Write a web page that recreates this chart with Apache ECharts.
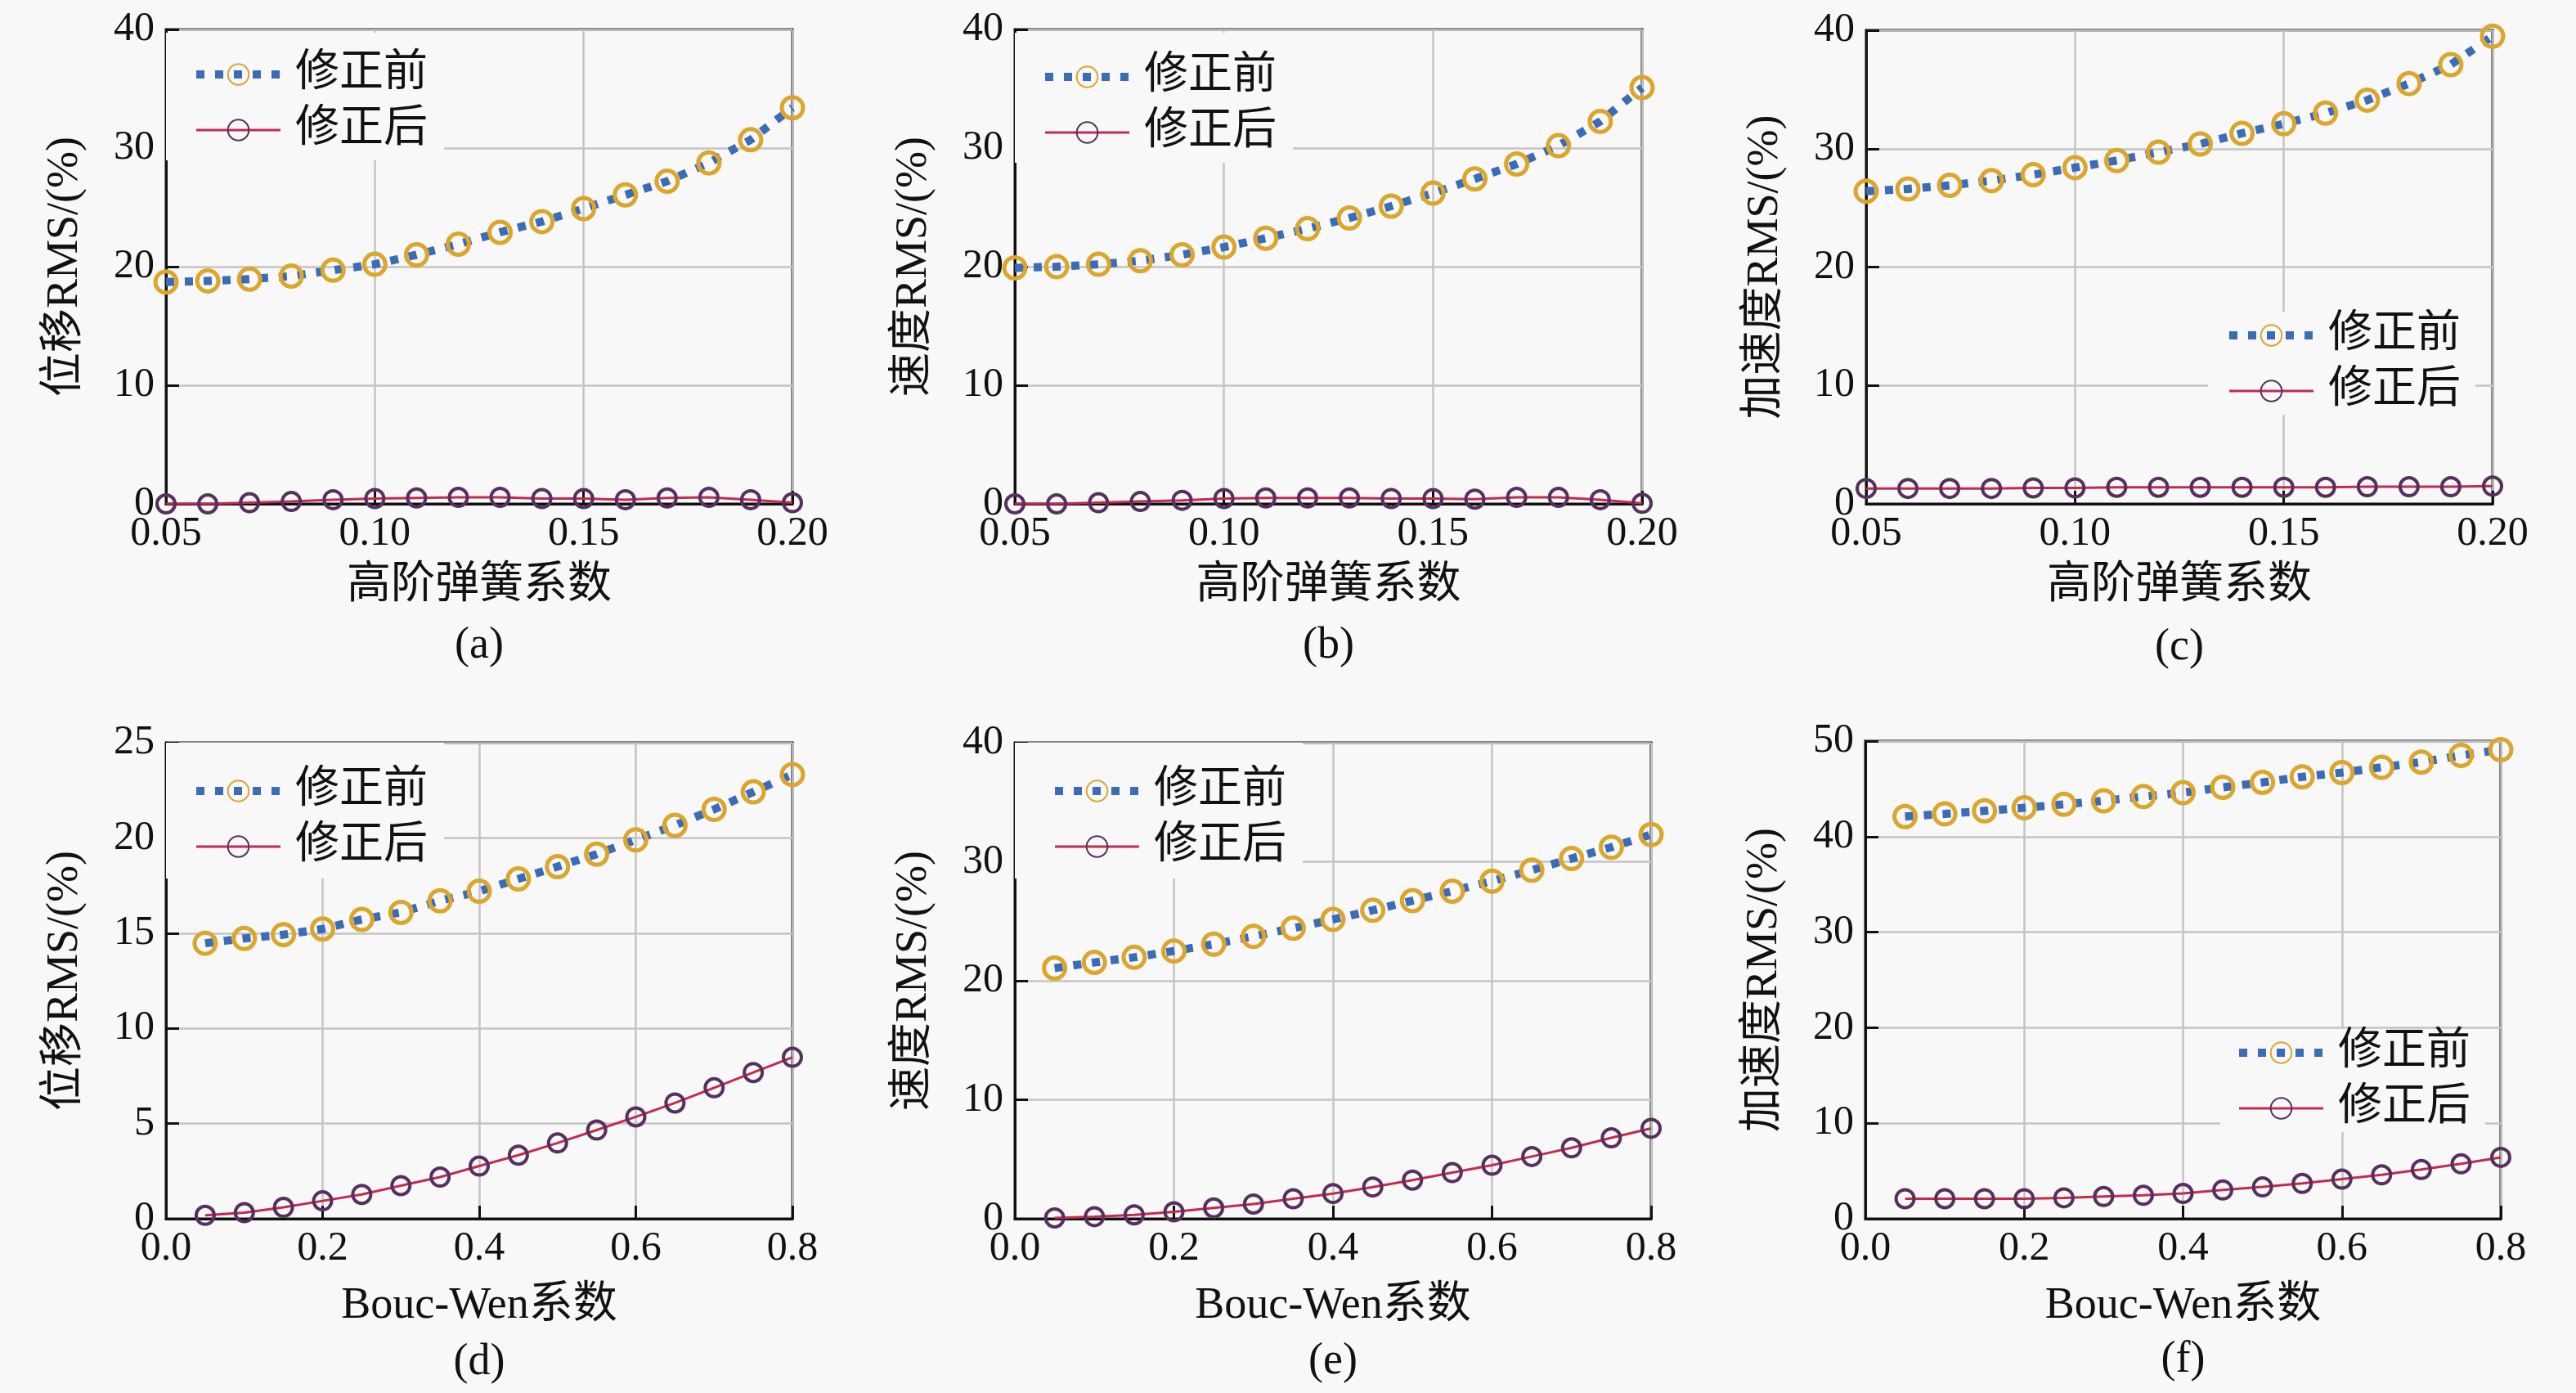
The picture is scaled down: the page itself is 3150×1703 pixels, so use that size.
<!DOCTYPE html>
<html><head><meta charset="utf-8">
<script src="https://cdn.jsdelivr.net/npm/echarts@6/dist/echarts.min.js"></script>
<style>html,body{margin:0;padding:0;background:#f8f8f8}#c{width:3150px;height:1703px}</style>
</head><body><div id="c"></div>
<script>
// ---- data ----
const xSpring = [0.05,0.06,0.07,0.08,0.09,0.10,0.11,0.12,0.13,0.14,0.15,0.16,0.17,0.18,0.19,0.20];
const xBouc   = [0.05,0.10,0.15,0.20,0.25,0.30,0.35,0.40,0.45,0.50,0.55,0.60,0.65,0.70,0.75,0.80];

const dispSpringBefore = [18.7,18.8,18.95,19.2,19.7,20.2,21.0,21.9,22.9,23.8,24.9,26.05,27.2,28.75,30.7,33.4];
const dispSpringAfter  = [0.0,0.0,0.1,0.2,0.35,0.45,0.5,0.55,0.55,0.45,0.45,0.35,0.5,0.55,0.35,0.1];
const velSpringBefore  = [19.9,20.0,20.2,20.5,21.0,21.65,22.4,23.2,24.1,25.1,26.2,27.4,28.65,30.2,32.25,35.1];
const velSpringAfter   = [0.0,0.0,0.1,0.2,0.3,0.45,0.5,0.5,0.5,0.45,0.45,0.4,0.55,0.55,0.35,0.05];
const accSpringBefore  = [26.4,26.6,26.9,27.3,27.8,28.4,29.0,29.7,30.4,31.3,32.1,33.0,34.1,35.5,37.1,39.5];
const accSpringAfter   = [1.3,1.3,1.3,1.3,1.35,1.35,1.4,1.4,1.4,1.4,1.4,1.4,1.45,1.45,1.45,1.5];

const dispBoucBefore = [14.47,14.72,14.92,15.22,15.72,16.09,16.7,17.2,17.85,18.49,19.15,19.9,20.66,21.5,22.42,23.33];
const dispBoucAfter  = [0.18,0.32,0.6,0.94,1.28,1.74,2.19,2.77,3.34,3.98,4.66,5.35,6.08,6.88,7.68,8.48];
const velBoucBefore  = [21.06,21.54,21.97,22.5,23.07,23.73,24.42,25.15,25.92,26.73,27.53,28.37,29.29,30.27,31.22,32.28];
const velBoucAfter   = [0.07,0.18,0.33,0.58,0.91,1.24,1.68,2.12,2.67,3.25,3.88,4.5,5.23,5.96,6.8,7.6];
const accBoucBefore  = [42.1,42.38,42.7,43.02,43.38,43.75,44.2,44.6,45.16,45.67,46.26,46.7,47.26,47.8,48.5,49.1];
const accBoucAfter   = [2.1,2.1,2.1,2.1,2.19,2.33,2.46,2.65,3.01,3.33,3.7,4.15,4.6,5.15,5.75,6.43];

const seriesNames = ['修正前','修正后'];
const xNames = ['高阶弹簧系数','Bouc-Wen系数'];
const yNames = ['位移RMS/(%)','速度RMS/(%)','加速度RMS/(%)'];
const panelLabels = ['(a)','(b)','(c)','(d)','(e)','(f)'];

// ---- layout ----
const FONT = "'Liberation Serif','Noto Sans CJK SC',serif";
const BEFORE_LINE = {color:'#3b6cb7', width:10, type:[10,13], cap:'butt'};
const AFTER_LINE = {color:'#c22a55', width:3};
const panels = [
  {grid:{left:203,top:36,width:766,height:580}, x:xSpring, before:dispSpringBefore, after:dispSpringAfter, xName:xNames[0], yName:yNames[0], xr:[0.05,0.20,0.05,2], yr:[0,40,10], label:panelLabels[0], ly:790, nameGap:74,
   legend:{left:203,top:40,padding:[24,20,10,32]}},
  {grid:{left:1241,top:36,width:767,height:580}, x:xSpring, before:velSpringBefore, after:velSpringAfter, xName:xNames[0], yName:yNames[1], xr:[0.05,0.20,0.05,2], yr:[0,40,10], label:panelLabels[1], ly:790, nameGap:74,
   legend:{left:1241,top:40,padding:[27,20,10,32]}},
  {grid:{left:2282,top:37,width:766,height:579}, x:xSpring, before:accSpringBefore, after:accSpringAfter, xName:xNames[0], yName:yNames[2], xr:[0.05,0.20,0.05,2], yr:[0,40,10], label:panelLabels[2], ly:792, nameGap:74,
   legend:{left:2700,top:381,padding:[2,18,2,21]}},
  {grid:{left:203,top:908,width:766,height:582}, x:xBouc, before:dispBoucBefore, after:dispBoucAfter, xName:xNames[1], yName:yNames[0], xr:[0,0.8,0.2,1], yr:[0,25,5], label:panelLabels[3], ly:1666, nameGap:80,
   legend:{left:203,top:908,padding:[32,20,12,32]}},
  {grid:{left:1241,top:908,width:778,height:582}, x:xBouc, before:velBoucBefore, after:velBoucAfter, xName:xNames[1], yName:yNames[1], xr:[0,0.8,0.2,1], yr:[0,40,10], label:panelLabels[4], ly:1665, nameGap:80,
   legend:{left:1241,top:908,padding:[32,20,12,44]}},
  {grid:{left:2281,top:906,width:777,height:584}, x:xBouc, before:accBoucBefore, after:accBoucAfter, xName:xNames[1], yName:yNames[2], xr:[0,0.8,0.2,1], yr:[0,50,10], label:panelLabels[5], ly:1663, nameGap:80,
   legend:{left:2715,top:1258,padding:[2,18,2,18]}}
];

const grids=[], xAxes=[], yAxes=[], series=[], legends=[];
panels.forEach((p,i)=>{
  grids.push(Object.assign({show:true, borderColor:'#111', borderWidth:3, backgroundColor:'transparent', containLabel:false}, p.grid));
  xAxes.push({
    type:'value', gridIndex:i, min:p.xr[0], max:p.xr[1], interval:p.xr[2],
    name:p.xName, nameLocation:'middle', nameGap:p.nameGap,
    nameTextStyle:{fontFamily:FONT, fontSize:54, color:'#111'},
    axisLine:{onZero:false, lineStyle:{color:'#111', width:3}},
    axisTick:{show:true, inside:true, length:16, lineStyle:{color:'#111', width:3}},
    axisLabel:{fontFamily:FONT, fontSize:50, color:'#111', margin:12, formatter:v=>v.toFixed(p.xr[3])},
    splitLine:{show:true, lineStyle:{color:'#c4c4c4', width:2.5}}
  });
  yAxes.push({
    type:'value', gridIndex:i, min:p.yr[0], max:p.yr[1], interval:p.yr[2],
    name:p.yName, nameLocation:'middle', nameGap:96, nameRotate:90,
    nameTextStyle:{fontFamily:FONT, fontSize:54, color:'#111'},
    axisLine:{lineStyle:{color:'#111', width:3}},
    axisTick:{show:true, inside:true, length:16, lineStyle:{color:'#111', width:3}},
    axisLabel:{fontFamily:FONT, fontSize:50, color:'#111', margin:14},
    splitLine:{show:true, lineStyle:{color:'#c4c4c4', width:2.5}}
  });
  series.push({
    name:seriesNames[0], type:'line', xAxisIndex:i, yAxisIndex:i, z:4,
    data:p.x.map((x,k)=>[x,p.before[k]]),
    symbol:'circle', symbolSize:26,
    lineStyle:BEFORE_LINE,
    itemStyle:{color:'rgba(0,0,0,0)', borderColor:'#dca52c', borderWidth:5},
    emphasis:{disabled:true}
  });
  series.push({
    name:seriesNames[1], type:'line', xAxisIndex:i, yAxisIndex:i, z:3,
    data:p.x.map((x,k)=>[x,p.after[k]]),
    symbol:'circle', symbolSize:22,
    lineStyle:AFTER_LINE,
    itemStyle:{color:'rgba(0,0,0,0)', borderColor:'#57305e', borderWidth:4},
    emphasis:{disabled:true}
  });
  legends.push({
    orient:'vertical', left:p.legend.left, top:p.legend.top, padding:p.legend.padding,
    backgroundColor:'#f8f8f8', itemWidth:103, itemHeight:32, itemGap:14,
    data:[
      {name:seriesNames[0], lineStyle:{width:10, type:[10,13], color:'#3b6cb7', cap:'butt'}},
      {name:seriesNames[1], lineStyle:{width:3, color:'#c22a55'}}
    ],
    selectedMode:false,
    textStyle:{fontFamily:FONT, fontSize:54, lineHeight:54, color:'#111', padding:[0,0,0,13]}
  });
});

const chart = echarts.init(document.getElementById('c'), null, {renderer:'canvas'});
chart.setOption({
  backgroundColor:'#f8f8f8',
  animation:false,
  grid:grids, xAxis:xAxes, yAxis:yAxes, series:series, legend:legends,
  graphic: panels.map(p=>({
    type:'text', x:p.grid.left + p.grid.width/2, y:p.ly,
    style:{text:p.label, font:"54px 'Liberation Serif'", fill:'#111', align:'center', verticalAlign:'middle'}
  }))
});
</script></body></html>
